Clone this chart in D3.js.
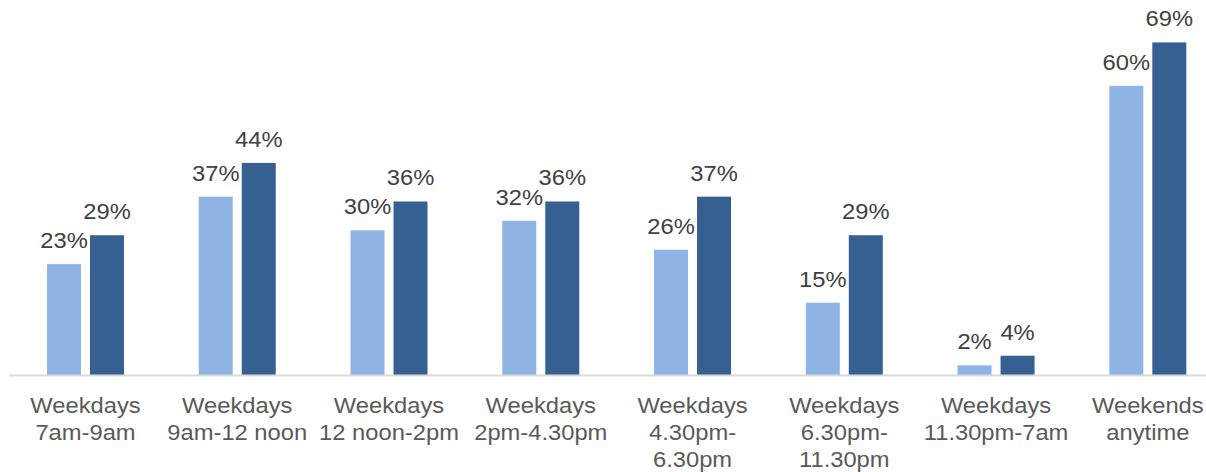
<!DOCTYPE html>
<html><head><meta charset="utf-8">
<script src="https://cdn.jsdelivr.net/npm/d3@7"></script>
<style>body{margin:0;background:#fff}svg{display:block}</style>
</head><body>
<script>
const categories = [
  ["Weekdays","7am-9am"],
  ["Weekdays","9am-12 noon"],
  ["Weekdays","12 noon-2pm"],
  ["Weekdays","2pm-4.30pm"],
  ["Weekdays","4.30pm-","6.30pm"],
  ["Weekdays","6.30pm-","11.30pm"],
  ["Weekdays","11.30pm-7am"],
  ["Weekends","anytime"]
];
const seriesLight = [23,37,30,32,26,15,2,60];
const seriesDark  = [29,44,36,36,37,29,4,69];
const seriesNames = ["light","dark"];
const colors = {light:"#8EB4E3", dark:"#366092"};

const W = 1206, H = 472;
const svg = d3.select("body").append("svg").attr("width",W).attr("height",H);
const baseY = 375;
const sx = 1.055;
const x0 = d3.scaleBand().domain(d3.range(categories.length)).range([9.6, 1223.7]).paddingInner(0).paddingOuter(0);
const step = x0.bandwidth();
const x1 = d3.scaleBand().domain(seriesNames).range([step/2-38.5, step/2+38.5]).paddingInner(9/43);
const y = d3.scaleLinear().domain([0,70]).range([baseY, baseY-70*4.82]);

const data = categories.map((c,i)=>({i, light:seriesLight[i], dark:seriesDark[i]}));
const g = svg.selectAll("g.grp").data(data).enter().append("g").attr("transform",d=>`translate(${x0(d.i)},0)`);
seriesNames.forEach(s=>{
  g.append("rect").attr("x",x1(s)).attr("width",x1.bandwidth())
   .attr("y",d=>y(d[s])).attr("height",d=>baseY-y(d[s])).attr("fill",colors[s]);
  g.append("text").attr("transform",d=>`translate(${x1(s)+x1.bandwidth()/2},${y(d[s])-16}) scale(${sx},1)`)
   .attr("text-anchor","middle").attr("font-family","Liberation Sans, Arial, sans-serif")
   .attr("font-size",22.5).attr("fill","#404040").text(d=>d[s]+"%");
});
svg.append("line").attr("x1",9.6).attr("x2",W).attr("y1",baseY+0.5).attr("y2",baseY+0.5)
  .attr("stroke","#d9d9d9").attr("stroke-width",2);

const lab = svg.selectAll("text.cat").data(categories).enter().append("text")
  .attr("class","cat").attr("text-anchor","middle")
  .attr("font-family","Liberation Sans, Arial, sans-serif").attr("font-size",22.5).attr("fill","#595959")
  .attr("transform",(d,i)=>`translate(${x0(i)+step/2},412.7) scale(${sx},1)`);
lab.selectAll("tspan").data(d=>d).enter().append("tspan").attr("x",0).attr("y",(d,j)=>j*27.3).text(d=>d);
</script>
</body></html>
